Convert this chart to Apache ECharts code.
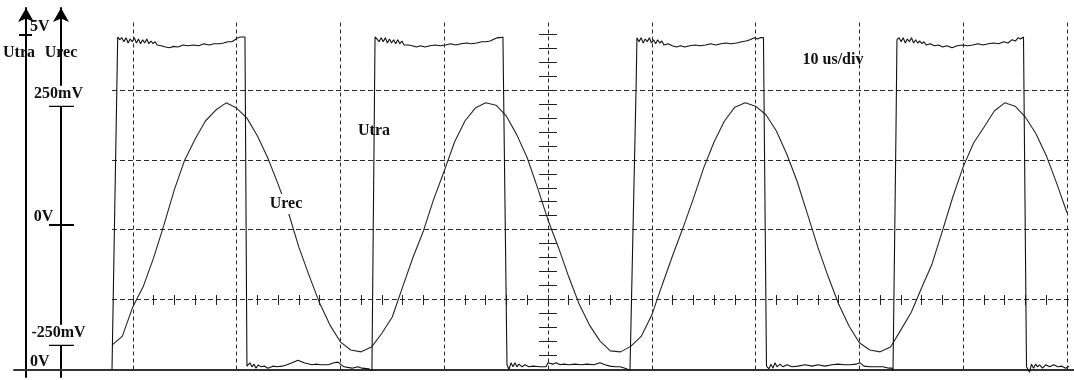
<!DOCTYPE html>
<html>
<head>
<meta charset="utf-8">
<script src="https://cdn.jsdelivr.net/npm/echarts@6/dist/echarts.min.js"></script>
<style>
  html, body { margin: 0; padding: 0; background: #fff; }
  #scope { width: 1074px; height: 380px; }
</style>
</head>
<body>
<div id="scope"></div>
<script>
// Received signal Urec, sampled once per microsecond (time in µs, value in mV)
const urecTime = [-42,-41,-40,-39,-38,-37,-36,-35,-34,-33,-32,-31,-30,-29,-28,-27,-26,-25,-24,-23,-22,-21,-20,-19,-18,-17,-16,-15,-14,-13,-12,-11,-10,-9,-8,-7,-6,-5,-4,-3,-2,-1,0,1,2,3,4,5,6,7,8,9,10,11,12,13,14,15,16,17,18,19,20,21,22,23,24,25,26,27,28,29,30,31,32,33,34,35,36,37,38,39,40,41,42,43,44,45,46,47,48,49,50];
const urecMv = [-251,-232,-171,-129,-69,0,74,136,180,218,241,256,245,224,187,141,86,26,-46,-106,-163,-209,-244,-261,-265,-255,-226,-192,-129,-67,-12,55,113,174,218,245,256,251,228,189,141,78,11,-46,-108,-165,-209,-242,-263,-265,-253,-232,-188,-125,-64,-6,55,120,174,218,247,256,249,231,197,149,92,23,-46,-108,-165,-211,-246,-261,-265,-255,-219,-182,-131,-81,-12,59,122,172,205,239,256,249,226,192,146,88,26];

// Transmitted square wave Utra, one array per period: [time µs, volts]
const utraPeriod1 = [[-42.00,0.00],[-41.96,0.00],[-41.52,4.33],[-41.45,4.97],[-41.25,4.93],[-41.05,4.96],[-40.85,4.90],[-40.65,4.96],[-40.45,4.88],[-40.25,4.94],[-40.05,4.90],[-39.85,4.96],[-39.65,4.88],[-39.45,4.94],[-39.25,4.87],[-39.05,4.93],[-38.85,4.88],[-38.65,4.94],[-38.45,4.87],[-38.25,4.91],[-38.05,4.87],[-37.85,4.90],[-37.65,4.85],[-37.25,4.84],[-36.85,4.82],[-36.45,4.81],[-36.05,4.83],[-35.65,4.82],[-35.15,4.85],[-34.65,4.84],[-34.15,4.85],[-33.65,4.84],[-33.15,4.87],[-32.65,4.85],[-32.15,4.87],[-31.65,4.87],[-31.25,4.88],[-30.85,4.90],[-30.45,4.90],[-30.15,4.93],[-29.85,4.96],[-29.65,4.97],[-29.19,4.97],
  [-29.00,0.05],[-28.90,0.07],[-28.71,0.10],[-28.52,0.04],[-28.32,0.08],[-28.13,0.02],[-27.90,0.07],[-27.65,0.04],[-27.30,0.05],[-26.97,0.02],[-26.50,0.05],[-26.11,0.04],[-25.60,0.05],[-25.14,0.07],[-24.66,0.10],[-24.08,0.14],[-23.51,0.10],[-22.74,0.07],[-22.30,0.08],[-21.97,0.07],[-21.19,0.07],[-20.62,0.10],[-20.23,0.11],[-19.90,0.07],[-19.65,0.04],[-18.88,0.02],[-18.30,0.04],[-17.92,0.02],[-17.24,0.01],[-16.96,-0.02],[-16.86,0.00]];
const utraPeriod2 = [[-16.66,4.97],[-16.47,4.94],[-16.27,4.90],[-16.07,4.96],[-15.87,4.90],[-15.67,4.96],[-15.47,4.88],[-15.27,4.94],[-15.07,4.88],[-14.87,4.93],[-14.67,4.87],[-14.47,4.93],[-14.27,4.87],[-14.07,4.91],[-13.87,4.85],[-13.47,4.85],[-13.07,4.84],[-12.67,4.82],[-12.27,4.84],[-11.87,4.82],[-11.37,4.84],[-10.87,4.85],[-10.37,4.84],[-9.87,4.85],[-9.37,4.87],[-8.87,4.85],[-8.37,4.87],[-7.87,4.88],[-7.37,4.87],[-6.87,4.88],[-6.37,4.90],[-5.97,4.90],[-5.57,4.91],[-5.17,4.94],[-4.87,4.96],[-4.60,4.96],[-4.34,4.97],
  [-3.95,0.07],[-3.76,0.00],[-3.56,0.10],[-3.37,0.04],[-3.18,0.10],[-2.99,0.04],[-2.79,0.08],[-2.50,0.04],[-2.22,0.07],[-1.83,0.04],[-1.45,0.05],[-0.77,0.04],[-0.19,0.04],[0.00,0.10],[0.19,0.11],[0.48,0.08],[0.77,0.10],[1.16,0.07],[1.54,0.08],[2.02,0.07],[2.60,0.08],[3.18,0.07],[3.76,0.08],[4.43,0.07],[5.01,0.10],[5.49,0.07],[5.97,0.05],[6.45,0.04],[6.94,0.04],[7.42,0.02],[7.90,-0.01],[8.00,-0.02]];
const utraPeriod3 = [[8.50,4.30],[8.57,4.96],[8.77,4.90],[8.97,4.96],[9.17,4.88],[9.37,4.94],[9.57,4.90],[9.77,4.96],[9.97,4.88],[10.17,4.93],[10.37,4.87],[10.57,4.93],[10.77,4.88],[10.97,4.91],[11.17,4.85],[11.57,4.87],[11.97,4.84],[12.37,4.82],[12.77,4.84],[13.17,4.82],[13.67,4.84],[14.17,4.85],[14.67,4.84],[15.17,4.85],[15.67,4.87],[16.17,4.85],[16.67,4.87],[17.17,4.88],[17.67,4.87],[18.17,4.88],[18.67,4.90],[19.07,4.91],[19.47,4.93],[19.87,4.96],[20.17,4.94],[20.47,4.96],[20.76,4.96],
  [21.05,0.05],[21.29,0.01],[21.48,0.08],[21.68,0.02],[21.87,0.10],[22.06,0.04],[22.35,0.08],[22.64,0.04],[23.03,0.07],[23.51,0.04],[24.08,0.05],[24.76,0.07],[25.43,0.05],[26.01,0.07],[26.69,0.05],[27.36,0.07],[27.94,0.08],[28.61,0.07],[29.09,0.07],[29.67,0.08],[30.06,0.10],[30.44,0.05],[31.02,0.04],[31.60,0.04],[32.27,0.04],[32.85,0.02],[33.14,0.02],[33.24,-0.02],[33.33,0.00]];
const utraPeriod4 = [[33.53,3.62],[33.62,4.93],[33.82,4.96],[34.02,4.90],[34.22,4.96],[34.42,4.88],[34.62,4.94],[34.82,4.90],[35.02,4.96],[35.22,4.88],[35.42,4.93],[35.62,4.88],[35.82,4.91],[36.02,4.87],[36.22,4.90],[36.42,4.85],[36.82,4.87],[37.22,4.84],[37.62,4.85],[38.02,4.82],[38.42,4.84],[38.92,4.81],[39.42,4.84],[39.92,4.85],[40.42,4.84],[40.92,4.85],[41.42,4.87],[41.92,4.85],[42.42,4.87],[42.92,4.88],[43.42,4.87],[43.92,4.90],[44.32,4.88],[44.72,4.93],[45.02,4.91],[45.32,4.96],[45.52,4.94],[45.81,4.97],
  [46.10,0.04],[46.39,-0.04],[46.58,0.08],[46.78,0.02],[46.97,0.08],[47.17,0.04],[47.36,0.07],[47.65,0.02],[47.94,0.07],[48.33,0.04],[48.72,0.07],[49.11,0.04],[49.50,0.05],[49.88,0.02],[50.20,0.05]];

// Graticule: 10 µs per horizontal division, five subdivisions each
const divisionTimes = [-40, -30, -20, -10, 0, 10, 20, 30, 40, 50];
// Annotated voltage levels on the two signal axes
const utraLabelVolts = [0, 5];
const utraTickVolts = [5];
const urecLabelMv = [250, 0, -250];
const timebaseText = '10 us/div';

// ---- build helpers -------------------------------------------------------
const urecData = urecTime.map((t, i) => [t, urecMv[i]]);
const utraData = [].concat(utraPeriod1, utraPeriod2, utraPeriod3, utraPeriod4);

const minorTimeTicks = [];
divisionTimes.forEach((t, i) => {
  if (i === 0) { minorTimeTicks.push(t); return; }
  for (let k = 4; k >= 0; k--) minorTimeTicks.push(t - k * 2);
});
const minorDivTicks = [];
for (let k = -9; k <= 14; k++) minorDivTicks.push(+(k * 0.2).toFixed(1));

const FONT = "'Liberation Serif', 'DejaVu Serif', serif";
const INK = '#111';
const GRID_LINE = { color: '#2a2a2a', width: 1, type: [5, 3] };

const hiddenAxisParts = {
  axisLine: { show: false }, axisTick: { show: false },
  axisLabel: { show: false }, splitLine: { show: false }
};

const chart = echarts.init(document.getElementById('scope'), null, { renderer: 'canvas' });

chart.setOption({
  animation: false,
  backgroundColor: '#fff',
  grid: [
    // screen area holding the traces
    { left: 112, right: 4, top: 20, height: 349.5 },
    // strip holding the voltage axes and the base line
    { left: 13, right: 0, top: 8, bottom: 3 }
  ],
  xAxis: [
    { type: 'value', gridIndex: 0, min: -42, max: 50.29, ...hiddenAxisParts },
    { // subdivision marks on the graticule line one division below centre
      type: 'value', gridIndex: 0, min: -42, max: 50.29, position: 'bottom', offset: -74.5,
      axisLine: { show: false }, axisLabel: { show: false }, splitLine: { show: false },
      axisTick: { show: true, inside: false, length: 10, customValues: minorTimeTicks,
                  lineStyle: { color: '#222', width: 1 } }
    },
    { // base line under everything
      type: 'value', gridIndex: 1, min: 0, max: 1, position: 'bottom',
      axisLine: { show: true, lineStyle: { color: '#333', width: 2 } },
      axisTick: { show: false }, axisLabel: { show: false }, splitLine: { show: false }
    }
  ],
  yAxis: [
    { type: 'value', gridIndex: 0, min: -301.9, max: 429.3, ...hiddenAxisParts },   // Urec, mV
    { type: 'value', gridIndex: 0, min: 0, max: 5.224, ...hiddenAxisParts },        // Utra, V
    { // vertical divisions of the screen
      type: 'value', gridIndex: 0, min: -2, max: 3, interval: 1,
      axisLine: { show: false }, axisTick: { show: false }, axisLabel: { show: false },
      splitLine: { show: true, showMinLine: true, showMaxLine: false, lineStyle: GRID_LINE }
    },
    { // subdivision marks along the centre line
      type: 'value', gridIndex: 0, min: -2, max: 3, position: 'left', offset: -445,
      axisLine: { show: false }, axisLabel: { show: false }, splitLine: { show: false },
      axisTick: { show: true, inside: false, length: 18, customValues: minorDivTicks,
                  lineStyle: { color: '#222', width: 1 } }
    },
    { // Utra axis
      type: 'value', gridIndex: 1, min: -0.112, max: 5.404, position: 'left', offset: -12,
      name: 'Utra', nameLocation: 'end', nameGap: -45,
      nameTextStyle: { fontFamily: FONT, fontWeight: 'bold', fontSize: 16, color: INK,
                       align: 'center', verticalAlign: 'middle',
                       backgroundColor: '#fff', padding: [7, 14, 7, 0] },
      axisLine: { show: true, symbol: ['none', 'arrow'], symbolSize: [12, 14],
                  lineStyle: { color: '#000', width: 2 } },
      axisTick: { show: false },
      axisLabel: { show: true, inside: true, margin: 4, customValues: utraLabelVolts,
                   formatter: v => v + 'V', align: 'left', verticalAlign: 'bottom',
                   fontFamily: FONT, fontWeight: 'bold', fontSize: 16, color: INK },
      splitLine: { show: false }
    },
    { // cross marks on the Utra axis
      type: 'value', gridIndex: 1, min: -0.112, max: 5.404, position: 'left', offset: -18,
      axisLine: { show: false }, axisLabel: { show: false }, splitLine: { show: false },
      axisTick: { show: true, inside: false, length: 13, customValues: utraTickVolts,
                  lineStyle: { color: '#000', width: 2 } }
    },
    { // Urec axis
      type: 'value', gridIndex: 1, min: -317.6, max: 454.4, position: 'left', offset: -47,
      name: 'Urec', nameLocation: 'end', nameGap: -45,
      nameTextStyle: { fontFamily: FONT, fontWeight: 'bold', fontSize: 16, color: INK,
                       align: 'center', verticalAlign: 'middle',
                       backgroundColor: '#fff', padding: [7, 1, 7, 1] },
      axisLine: { show: true, symbol: ['none', 'arrow'], symbolSize: [12, 14],
                  lineStyle: { color: '#000', width: 2 } },
      axisTick: { show: false },
      axisLabel: {
        show: true, inside: false, margin: 2.5, customValues: urecLabelMv,
        align: 'center', verticalAlign: 'bottom',
        formatter: v => v === 0 ? '{z|0V}' : '{a|' + v + 'mV}',
        rich: {
          a: { fontFamily: FONT, fontWeight: 'bold', fontSize: 16, color: INK,
               backgroundColor: '#fff', padding: [0, 1, 4, 1] },
          z: { fontFamily: FONT, fontWeight: 'bold', fontSize: 16, color: INK,
               padding: [0, 30, 0, 0] }
        }
      },
      splitLine: { show: false }
    },
    { // cross marks on the Urec axis
      type: 'value', gridIndex: 1, min: -317.6, max: 454.4, position: 'left', offset: -60,
      axisLine: { show: false }, axisLabel: { show: false }, splitLine: { show: false },
      axisTick: { show: true, inside: false, length: 25, customValues: urecLabelMv,
                  lineStyle: { color: '#000', width: 2 } }
    }
  ],
  series: [
    {
      name: 'Urec', type: 'line', xAxisIndex: 0, yAxisIndex: 0,
      data: urecData, showSymbol: false, symbol: 'none', clip: false,
      lineStyle: { color: '#262626', width: 1.1 }, z: 3,
      markLine: {
        silent: true, symbol: ['none', 'none'], label: { show: false },
        lineStyle: { color: '#2a2a2a', width: 1, type: [4, 3] },
        data: divisionTimes.map(t => ({ xAxis: t }))
      }
    },
    {
      name: 'Utra', type: 'line', xAxisIndex: 0, yAxisIndex: 1,
      data: utraData, showSymbol: false, symbol: 'none', clip: false,
      lineStyle: { color: '#111', width: 1.1 }, z: 4
    }
  ],
  graphic: [
    { type: 'text', z: 100, style: { text: 'Utra', x: 374, y: 131, align: 'center', verticalAlign: 'middle',
        font: 'bold 16px ' + FONT, fill: INK } },
    { type: 'text', z: 100, style: { text: 'Urec', x: 286, y: 204, align: 'center', verticalAlign: 'middle',
        font: 'bold 16px ' + FONT, fill: INK, backgroundColor: '#fff', padding: [2, 2] } },
    { type: 'text', z: 100, style: { text: timebaseText, x: 833, y: 60, align: 'center', verticalAlign: 'middle',
        font: 'bold 16px ' + FONT, fill: INK } }
  ]
});
</script>
</body>
</html>
